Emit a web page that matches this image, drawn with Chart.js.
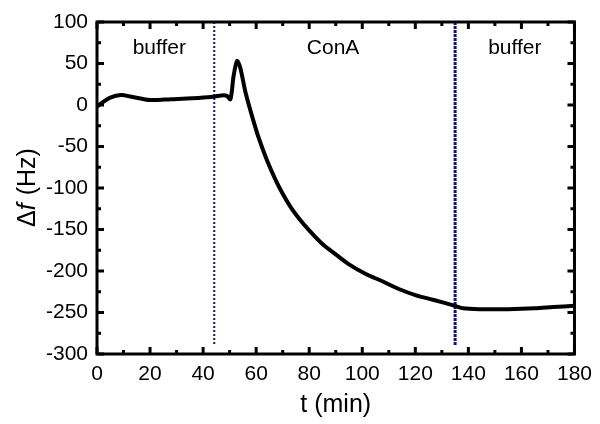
<!DOCTYPE html>
<html>
<head>
<meta charset="utf-8">
<script src="https://cdn.jsdelivr.net/npm/chart.js@4.4.1/dist/chart.umd.min.js"></script>
<style>
  html, body { margin: 0; padding: 0; background: #fff; }
  #wrap { width: 600px; height: 424px; }
</style>
</head>
<body>
<div id="wrap"><canvas id="qcm"></canvas></div>
<script>
// frequency shift trace
var timeMin = [0, 2, 5, 9, 13, 20, 28, 36, 43, 47, 49, 50.3, 51.5, 52.8, 54, 56, 58.5, 61, 64, 67, 70, 73, 76, 80, 85, 90, 95, 101, 108, 114, 120, 127, 135, 138, 145, 155, 165, 172, 180];
var deltaF = [-2, 3, 9, 12, 10, 6, 7, 8, 9.5, 11.5, 11, 7, 35, 53, 45, 15, -14, -40, -66, -88, -107, -123, -136, -151, -167.5, -180, -192, -203, -213, -222, -229, -235, -242, -245, -246, -246, -245, -243.5, -242];

// injection markers
var switchTimes = [44.2, 135];
var switchTop = 100;
var switchBottom = -290;

// phase labels
var phaseNames = ['buffer', 'ConA', 'buffer'];
var phaseX = [23.5, 89, 157.5];
var phaseY = 69;

var xTicks = [0, 20, 40, 60, 80, 100, 120, 140, 160, 180];
var yTicks = [-300, -250, -200, -150, -100, -50, 0, 50, 100];

var FONT = 'Arial, "Liberation Sans", sans-serif';

var trace = timeMin.map(function (t, i) { return { x: t, y: deltaF[i] }; });

// draws the boxed frame, inward ticks and the phase labels
var framePlugin = {
    id: 'frame',
    afterDatasetsDraw: function (chart) {
        var c = chart.ctx, a = chart.chartArea;
        var xs = chart.scales.x, ys = chart.scales.y;
        c.save();
        c.strokeStyle = '#000';
        c.lineWidth = 3;
        c.strokeRect(a.left, a.top, a.right - a.left, a.bottom - a.top);
        c.beginPath();
        for (var v = 0; v <= 180; v += 10) {
            var px = xs.getPixelForValue(v);
            var len = (v % 20 === 0) ? 7 : 4;
            c.moveTo(px, a.bottom); c.lineTo(px, a.bottom - len);
            c.moveTo(px, a.top); c.lineTo(px, a.top + len);
        }
        for (var w = -300; w <= 100; w += 25) {
            var py = ys.getPixelForValue(w);
            var len2 = (w % 50 === 0) ? 7 : 4;
            c.moveTo(a.left, py); c.lineTo(a.left + len2, py);
            c.moveTo(a.right, py); c.lineTo(a.right - len2, py);
        }
        c.stroke();

        c.fillStyle = '#000';
        c.font = '21px ' + FONT;
        c.textAlign = 'center';
        c.textBaseline = 'middle';
        phaseNames.forEach(function (n, i) {
            c.fillText(n, xs.getPixelForValue(phaseX[i]), ys.getPixelForValue(phaseY));
        });

        // y axis title with italic f
        c.translate(28, (a.top + a.bottom) / 2);
        c.rotate(-Math.PI / 2);
        var sz = '25px ';
        c.font = sz + FONT;
        var p1 = '\u0394', p2 = 'f', p3 = ' (Hz)';
        var w1 = c.measureText(p1).width;
        c.font = 'italic ' + sz + FONT;
        var w2 = c.measureText(p2).width;
        c.font = sz + FONT;
        var w3 = c.measureText(p3).width;
        var x0 = -(w1 + w2 + w3) / 2;
        c.textAlign = 'left';
        c.fillText(p1, x0, 0);
        c.font = 'italic ' + sz + FONT;
        c.fillText(p2, x0 + w1, 0);
        c.font = sz + FONT;
        c.fillText(p3, x0 + w1 + w2 + 1, 0);
        c.restore();
    }
};

var datasets = [{
    label: 'trace',
    data: trace,
    borderColor: '#000',
    borderWidth: 4,
    pointRadius: 0,
    tension: 0.3,
    showLine: true,
    fill: false
}];

switchTimes.forEach(function (t, i) {
    datasets.push({
        label: 'switch' + i,
        data: [{ x: t, y: switchTop }, { x: t, y: switchBottom }],
        borderColor: '#10108a',
        borderWidth: i === 0 ? 2 : 3,
        borderDash: i === 0 ? [2, 2] : [3, 1],
        pointRadius: 0,
        showLine: true
    });
});

var chart = new Chart(document.getElementById('qcm').getContext('2d'), {
    type: 'scatter',
    data: { datasets: datasets },
    plugins: [framePlugin],
    options: {
        responsive: true,
        maintainAspectRatio: false,
        animation: false,
        layout: { padding: { top: 22, right: 22, left: 0, bottom: 0 } },
        plugins: { legend: { display: false }, tooltip: { enabled: false } },
        scales: {
            x: {
                type: 'linear',
                min: 0, max: 180,
                afterBuildTicks: function (s) { s.ticks = xTicks.map(function (v) { return { value: v }; }); },
                afterFit: function (s) { s.height = 70; },
                grid: { display: false, drawTicks: false },
                border: { display: false },
                ticks: { color: '#000', padding: 8, maxRotation: 0, font: { family: FONT, size: 21 } },
                title: { display: true, text: 't (min)', color: '#000', padding: { top: 4 }, font: { family: FONT, size: 25 } }
            },
            y: {
                type: 'linear',
                min: -300, max: 100,
                afterBuildTicks: function (s) { s.ticks = yTicks.map(function (v) { return { value: v }; }); },
                afterFit: function (s) { s.width = 97; },
                grid: { display: false, drawTicks: false },
                border: { display: false },
                ticks: { color: '#000', padding: 9, font: { family: FONT, size: 21 } }
            }
        }
    }
});
</script>
</body>
</html>
